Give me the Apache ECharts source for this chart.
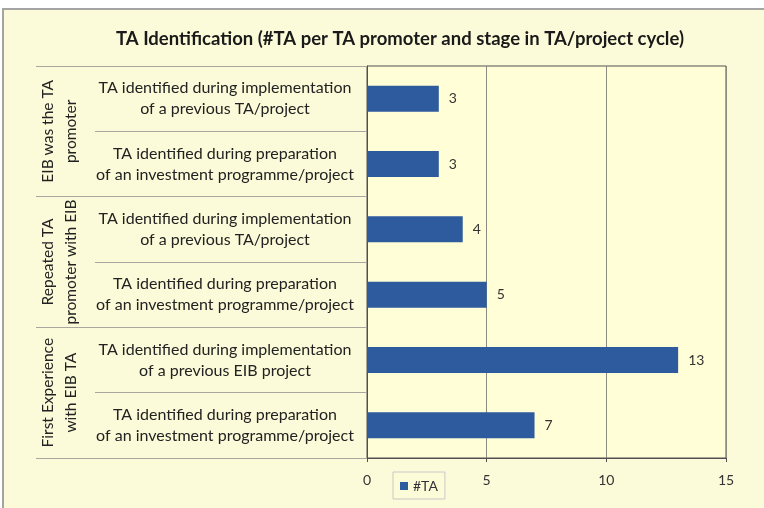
<!DOCTYPE html>
<html>
<head>
<meta charset="utf-8">
<script src="https://cdn.jsdelivr.net/npm/echarts@6/dist/echarts.min.js"></script>
<style>
  html, body { margin: 0; padding: 0; background: #ffffff; overflow: hidden; }
  #frame {
    position: absolute; left: 2px; top: 8px; width: 780px; height: 520px;
    border-left: 2px solid #a4a4a4; border-top: 2px solid #a4a4a4;
    background: #fcfbd9;
  }
  #chart { position: absolute; left: 0; top: 0; width: 764px; height: 508px; }
</style>
</head>
<body>
<div id="frame"></div>
<div id="chart"></div>
<script>
// TA identification chart - counts per promoter group and stage

const FONT = 'Lato, "Open Sans", sans-serif';

// Top to bottom, as in the picture
const stages = [
    'TA identified during implementation\nof a previous TA/project',
    'TA identified during preparation\nof an investment programme/project',
    'TA identified during implementation\nof a previous TA/project',
    'TA identified during preparation\nof an investment programme/project',
    'TA identified during implementation\nof a previous EIB project',
    'TA identified during preparation\nof an investment programme/project'
];
const groups = [
    'EIB was the TA\npromoter',
    'Repeated TA\npromoter with EIB',
    'First Experience\nwith EIB TA'
];
const taCounts = [3, 3, 4, 5, 13, 7];
const xTicks = [0, 15, 5]; // min, max, interval

const chart = echarts.init(document.getElementById('chart'));

chart.setOption({
    backgroundColor: 'transparent',
    animation: false,
    textStyle: { fontFamily: FONT },
    title: {
        text: 'TA Identification (#TA per TA promoter and stage in TA/project cycle)',
        left: 111,
        top: 25,
        textStyle: { fontFamily: FONT, fontSize: 18.5, fontWeight: 'bold', color: '#1a1a1a' }
    },
    legend: {
        data: ['#TA'],
        left: 393,
        top: 472,
        padding: [7, 7, 6, 7],
        borderColor: '#c8c8c8',
        borderWidth: 1,
        backgroundColor: '#fdfcd9',
        icon: 'rect',
        itemWidth: 8,
        itemHeight: 8,
        itemGap: 4,
        textStyle: { fontFamily: FONT, fontSize: 14, color: '#333' }
    },
    grid: {
        left: 367,
        right: 38,
        top: 66,
        bottom: 50,
        show: true,
        backgroundColor: '#fffed6',
        borderColor: '#505050',
        borderWidth: 1
    },
    xAxis: {
        type: 'value',
        min: xTicks[0],
        max: xTicks[1],
        interval: xTicks[2],
        axisLine: { show: true, lineStyle: { color: '#505050' } },
        axisTick: { show: true, length: 4, lineStyle: { color: '#505050' } },
        splitLine: { show: true, lineStyle: { color: '#8a8a80', width: 1 } },
        axisLabel: { margin: 15, fontSize: 14, color: '#333', fontFamily: FONT }
    },
    yAxis: [
        {
            type: 'category',
            data: stages,
            inverse: true,
            position: 'left',
            axisLine: { show: true, lineStyle: { color: '#505050' } },
            axisTick: { show: true, interval: 0, length: 272, lineStyle: { color: '#a8a8a0' } },
            axisLabel: {
                interval: 0,
                margin: 142,
                align: 'center',
                fontSize: 16,
                lineHeight: 21,
                color: '#222',
                fontFamily: FONT
            }
        },
        {
            type: 'category',
            data: groups,
            inverse: true,
            position: 'left',
            axisLine: { show: false },
            axisTick: { show: true, interval: 0, length: 331, lineStyle: { color: '#a8a8a0' } },
            axisLabel: {
                interval: 0,
                rotate: 90,
                margin: 285,
                fontSize: 15.5,
                lineHeight: 23,
                color: '#222',
                fontFamily: FONT
            }
        }
    ],
    series: [{
        name: '#TA',
        type: 'bar',
        yAxisIndex: 0,
        data: taCounts,
        barWidth: 26,
        itemStyle: { color: '#2d5b9e' },
        label: {
            show: true,
            position: 'right',
            distance: 10,
            fontSize: 14,
            color: '#333',
            fontFamily: FONT
        }
    }]
});
</script>
</body>
</html>
